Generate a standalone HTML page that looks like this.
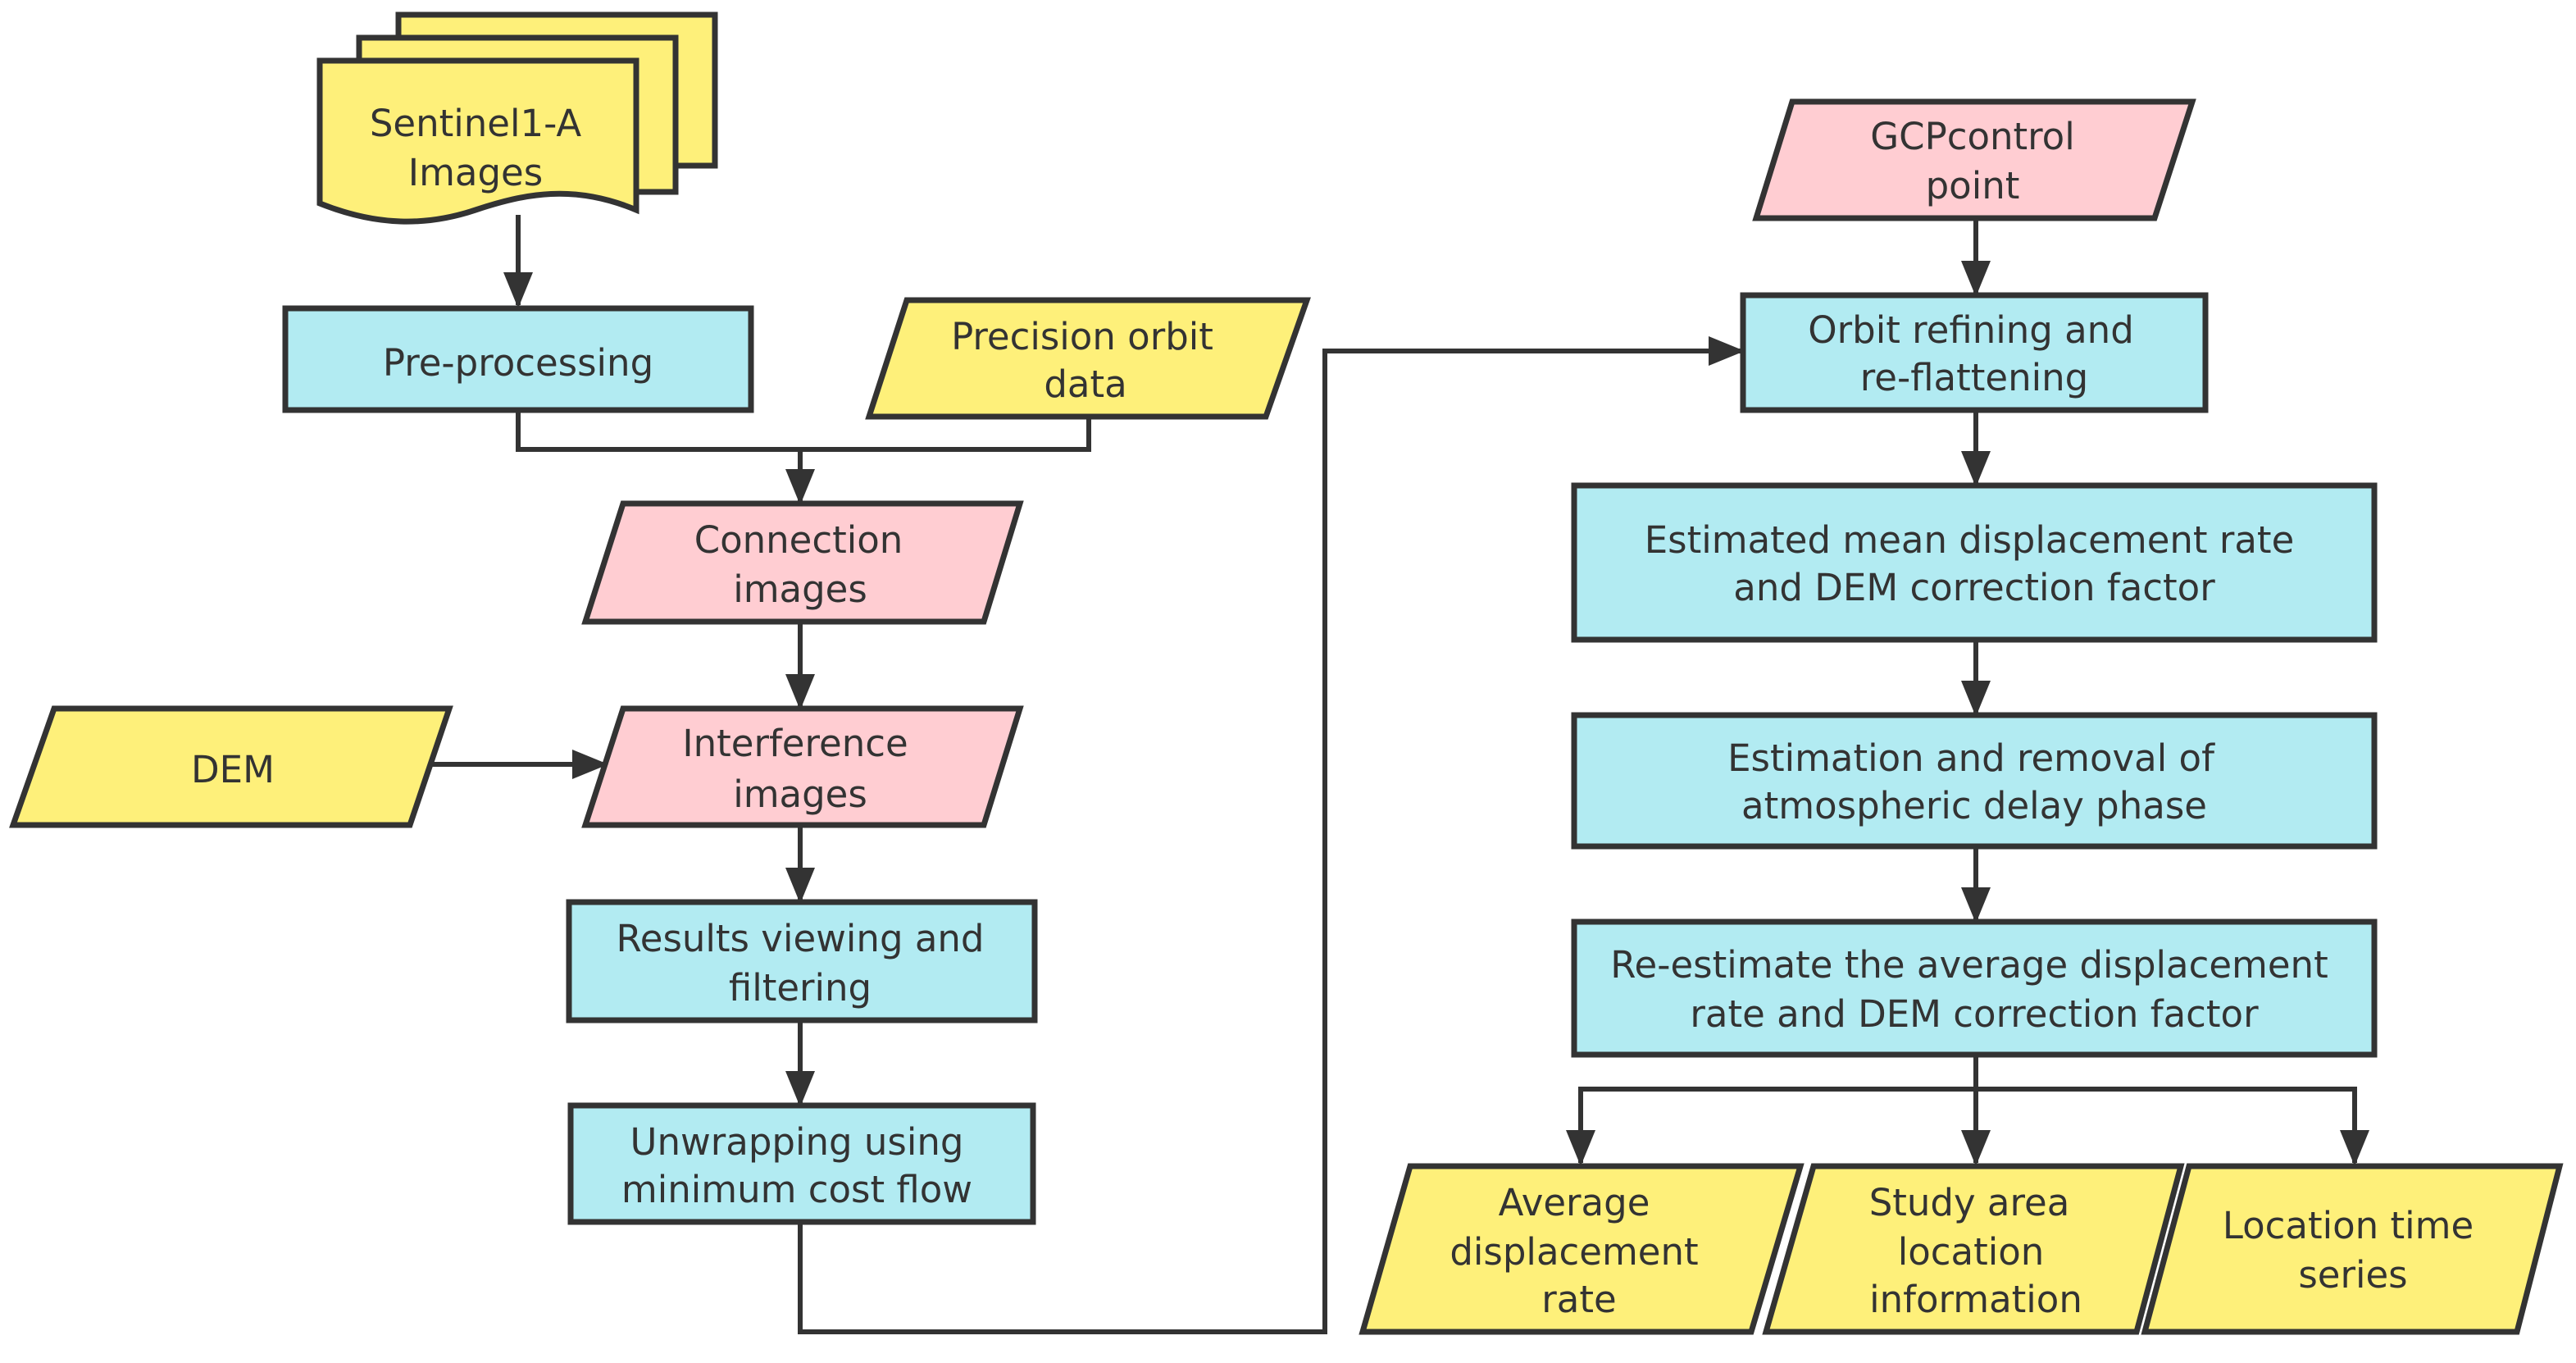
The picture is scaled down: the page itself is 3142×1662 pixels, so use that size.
<!DOCTYPE html>
<html><head><meta charset="utf-8"><style>
html,body{margin:0;padding:0;background:#fff;}
svg{display:block;}
text{font-family:"DejaVu Sans","Liberation Sans",sans-serif;font-size:22.5px;fill:#333;text-anchor:middle;}
</style></head><body>
<svg width="3142" height="1662" viewBox="0 0 1571 831" xmlns="http://www.w3.org/2000/svg">
<defs>
<marker id="b" markerWidth="22" markerHeight="18" refX="20" refY="9" orient="auto" markerUnits="userSpaceOnUse" viewBox="0 0 22 18"><path d="M0,0 L22,9 L0,18 z" fill="#333"/></marker>
</defs>
<g stroke="#333" stroke-width="3.5" fill="none">
<rect x="243" y="9" width="193" height="92" fill="#fef07a"/>
<rect x="219" y="23" width="193" height="94" fill="#fef07a"/>
<path d="M195,37 H388 V128 C350,112 320,118 290,128 C260,138 230,138 195,124 Z" fill="#fef07a"/>
<rect x="174" y="188" width="284" height="62" fill="#b2ebf2"/>
<polygon points="553,183 797,183 772,254 530,254" fill="#fef07a"/>
<polygon points="380,307 622,307 600,379 357,379" fill="#ffcdd2"/>
<polygon points="380,432 622,432 600,503 357,503" fill="#ffcdd2"/>
<polygon points="33,432 274,432 250,503 8,503" fill="#fef07a"/>
<rect x="347" y="550" width="284" height="72" fill="#b2ebf2"/>
<rect x="348" y="674" width="282" height="71" fill="#b2ebf2"/>
<polygon points="1093,62 1337,62 1314,133 1071,133" fill="#ffcdd2"/>
<rect x="1063" y="180" width="282" height="70" fill="#b2ebf2"/>
<rect x="960" y="296" width="488" height="94" fill="#b2ebf2"/>
<rect x="960" y="436" width="488" height="80" fill="#b2ebf2"/>
<rect x="960" y="562" width="488" height="81" fill="#b2ebf2"/>
<polygon points="860,711 1098,711 1068,812 831,812" fill="#fef07a"/>
<polygon points="1106,711 1330,711 1303,812 1077,812" fill="#fef07a"/>
<polygon points="1335,711 1561,711 1535,812 1308,812" fill="#fef07a"/>
</g>
<g stroke="#333" stroke-width="3" fill="none">
<path d="M316,131 V186" marker-end="url(#b)"/>
<path d="M316,250 V274 H664 V254"/>
<path d="M488,274 V306" marker-end="url(#b)"/>
<path d="M488,379 V431" marker-end="url(#b)"/>
<path d="M262,466 H369" marker-end="url(#b)"/>
<path d="M488,503 V549" marker-end="url(#b)"/>
<path d="M488,622 V673" marker-end="url(#b)"/>
<path d="M488,745 V812 H808 V214 H1062" marker-end="url(#b)"/>
<path d="M1205,133 V179" marker-end="url(#b)"/>
<path d="M1205,250 V295" marker-end="url(#b)"/>
<path d="M1205,390 V435" marker-end="url(#b)"/>
<path d="M1205,516 V561" marker-end="url(#b)"/>
<path d="M1205,643 V709"/>
<path d="M964,709 V664 H1436 V709"/>
<path d="M964,664 V709" marker-end="url(#b)"/>
<path d="M1205,664 V709" marker-end="url(#b)"/>
<path d="M1436,664 V709" marker-end="url(#b)"/>
</g>
<text x="290" y="83">Sentinel1-A</text><text x="290" y="113">Images</text>
<text x="316" y="229">Pre-processing</text>
<text x="660" y="213">Precision orbit</text><text x="662" y="242">data</text>
<text x="487" y="337">Connection</text><text x="488" y="367">images</text>
<text x="485" y="461">Interference</text><text x="488" y="492">images</text>
<text x="142" y="477">DEM</text>
<text x="488" y="580">Results viewing and</text><text x="488" y="610">filtering</text>
<text x="486" y="704">Unwrapping using</text><text x="486" y="733">minimum cost flow</text>
<text x="1203" y="91">GCPcontrol</text><text x="1203" y="121">point</text>
<text x="1202" y="209">Orbit refining and</text><text x="1204" y="238">re-flattening</text>
<text x="1201" y="337">Estimated mean displacement rate</text><text x="1204" y="366">and DEM correction factor</text>
<text x="1202" y="470">Estimation and removal of</text><text x="1204" y="499">atmospheric delay phase</text>
<text x="1201" y="596">Re-estimate the average displacement</text><text x="1204" y="626">rate and DEM correction factor</text>
<text x="960" y="741">Average</text><text x="960" y="771">displacement</text><text x="963" y="800">rate</text>
<text x="1201" y="741">Study area</text><text x="1202" y="771">location</text><text x="1205" y="800">information</text>
<text x="1432" y="755">Location time</text><text x="1435" y="785">series</text>
</svg>
</body></html>
